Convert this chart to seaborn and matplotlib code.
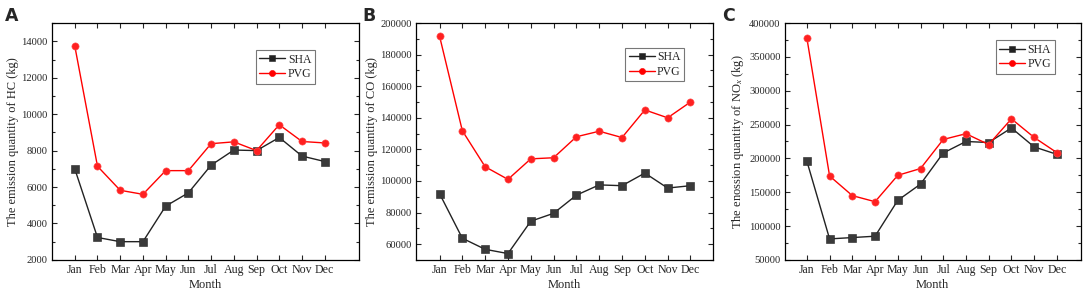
import pandas as pd
import numpy as np
import matplotlib.pyplot as plt
import seaborn as sns
from matplotlib.ticker import MultipleLocator, AutoMinorLocator

months = ['Jan', 'Feb', 'Mar', 'Apr', 'May', 'Jun', 'Jul', 'Aug', 'Sep', 'Oct', 'Nov', 'Dec']

# HC emissions (kg)
hc_sha = [7000, 3230, 3000, 3000, 4950, 5680, 7200, 8030, 8000, 8720, 7700, 7400]
hc_pvg = [13750, 7140, 5820, 5600, 6900, 6900, 8380, 8480, 8000, 9420, 8500, 8420]

# CO emissions (kg)
co_sha = [92000, 63700, 56700, 54000, 74500, 79500, 91000, 97500, 97000, 105000, 95500, 97000]
co_pvg = [191800, 131800, 109000, 101000, 114000, 114700, 128000, 131500, 127500, 145000, 140000, 150000]

# NOx emissions (kg)
nox_sha = [196000, 81000, 83000, 85000, 138000, 162000, 208000, 225000, 223500, 245000, 217000, 206000]
nox_pvg = [378000, 174000, 145000, 136000, 175000, 185000, 228000, 236500, 220500, 258500, 231000, 208500]

airports = ['SHA', 'PVG']

sns.set_style('ticks')
plt.rcParams['font.family'] = ['Liberation Serif', 'DejaVu Serif']
plt.rcParams['mathtext.fontset'] = 'custom'
plt.rcParams['mathtext.rm'] = 'Liberation Serif'
plt.rcParams['mathtext.it'] = 'Liberation Serif:italic'


def long_df(sha, pvg):
    rows = []
    for i, m in enumerate(months):
        rows.append({'pos': i, 'Month': m, 'Airport': 'SHA', 'value': sha[i]})
        rows.append({'pos': i, 'Month': m, 'Airport': 'PVG', 'value': pvg[i]})
    return pd.DataFrame(rows)


panels = [
    ('A', hc_sha, hc_pvg, 'The emission quantity of HC (kg)', (2000, 15000), 2000,
     [0.048, 0.122, 0.283, 0.800], (-1.0, 12.5), (0.857, 0.886)),
    ('B', co_sha, co_pvg, 'The emission quantity of CO (kg)', (50000, 200000), 20000,
     [0.384, 0.122, 0.274, 0.800], (-1.02, 12.0), (0.902, 0.895)),
    ('C', nox_sha, nox_pvg, 'The enossion quantity of NO$_x$ (kg)', (50000, 400000), 50000,
     [0.724, 0.122, 0.273, 0.800], (-0.97, 12.05), (0.912, 0.928)),
]

fig = plt.figure(figsize=(10.84, 2.96), dpi=100)

for letter, sha, pvg, ylabel, ylim, ystep, rect, xlim, leg_anchor in panels:
    ax = fig.add_axes(rect)
    df = long_df(sha, pvg)
    sns.lineplot(data=df, x='pos', y='value', hue='Airport', style='Airport',
                 hue_order=airports, style_order=airports,
                 palette={'SHA': '#222222', 'PVG': '#ff0000'},
                 markers={'SHA': 's', 'PVG': 'o'}, dashes=False,
                 markersize=5.2, linewidth=1.0, markeredgewidth=0.4,
                 markeredgecolor=None, ax=ax)
    for line, fc in zip(ax.lines, ['#3a3a3a', '#ff2020']):
        line.set_markerfacecolor(fc)
        line.set_markeredgecolor('#222222' if fc == '#3a3a3a' else '#ff5050')

    ax.set_xlim(*xlim)
    ax.set_ylim(*ylim)
    ax.set_xticks(range(len(months)))
    ax.set_xticklabels(months)
    ax.yaxis.set_major_locator(MultipleLocator(ystep))
    ax.yaxis.set_minor_locator(AutoMinorLocator(2))
    ax.tick_params(axis='both', which='both', direction='in',
                   top=True, right=True, width=0.8)
    ax.tick_params(axis='both', which='major', length=3.5)
    ax.tick_params(axis='y', which='minor', length=2)
    ax.tick_params(axis='x', which='minor', bottom=False, top=False)
    ax.tick_params(axis='y', labelsize=7.6, pad=3)
    ax.tick_params(axis='x', labelsize=8.6, pad=3)
    for sp in ax.spines.values():
        sp.set_linewidth(0.9)
        sp.set_color('black')

    ax.set_xlabel('Month', fontsize=9, labelpad=2)
    ax.set_ylabel(ylabel, fontsize=9, labelpad=2)

    leg = ax.legend(loc='upper right', bbox_to_anchor=leg_anchor, fontsize=8.5,
                    frameon=True, fancybox=False, edgecolor='#555555',
                    handlelength=2.2, handletextpad=0.2, borderpad=0.3,
                    labelspacing=0.2, borderaxespad=0, title=None,
                    markerscale=0.85)
    leg.get_frame().set_linewidth(0.8)

    fig.text(rect[0] - (0.043 if letter == 'A' else 0.05 if letter == 'B' else 0.058), 0.975,
             letter, fontsize=12.5, fontweight='bold', family='DejaVu Sans',
             va='top', ha='left')

fig.savefig('out.png', dpi=100)
